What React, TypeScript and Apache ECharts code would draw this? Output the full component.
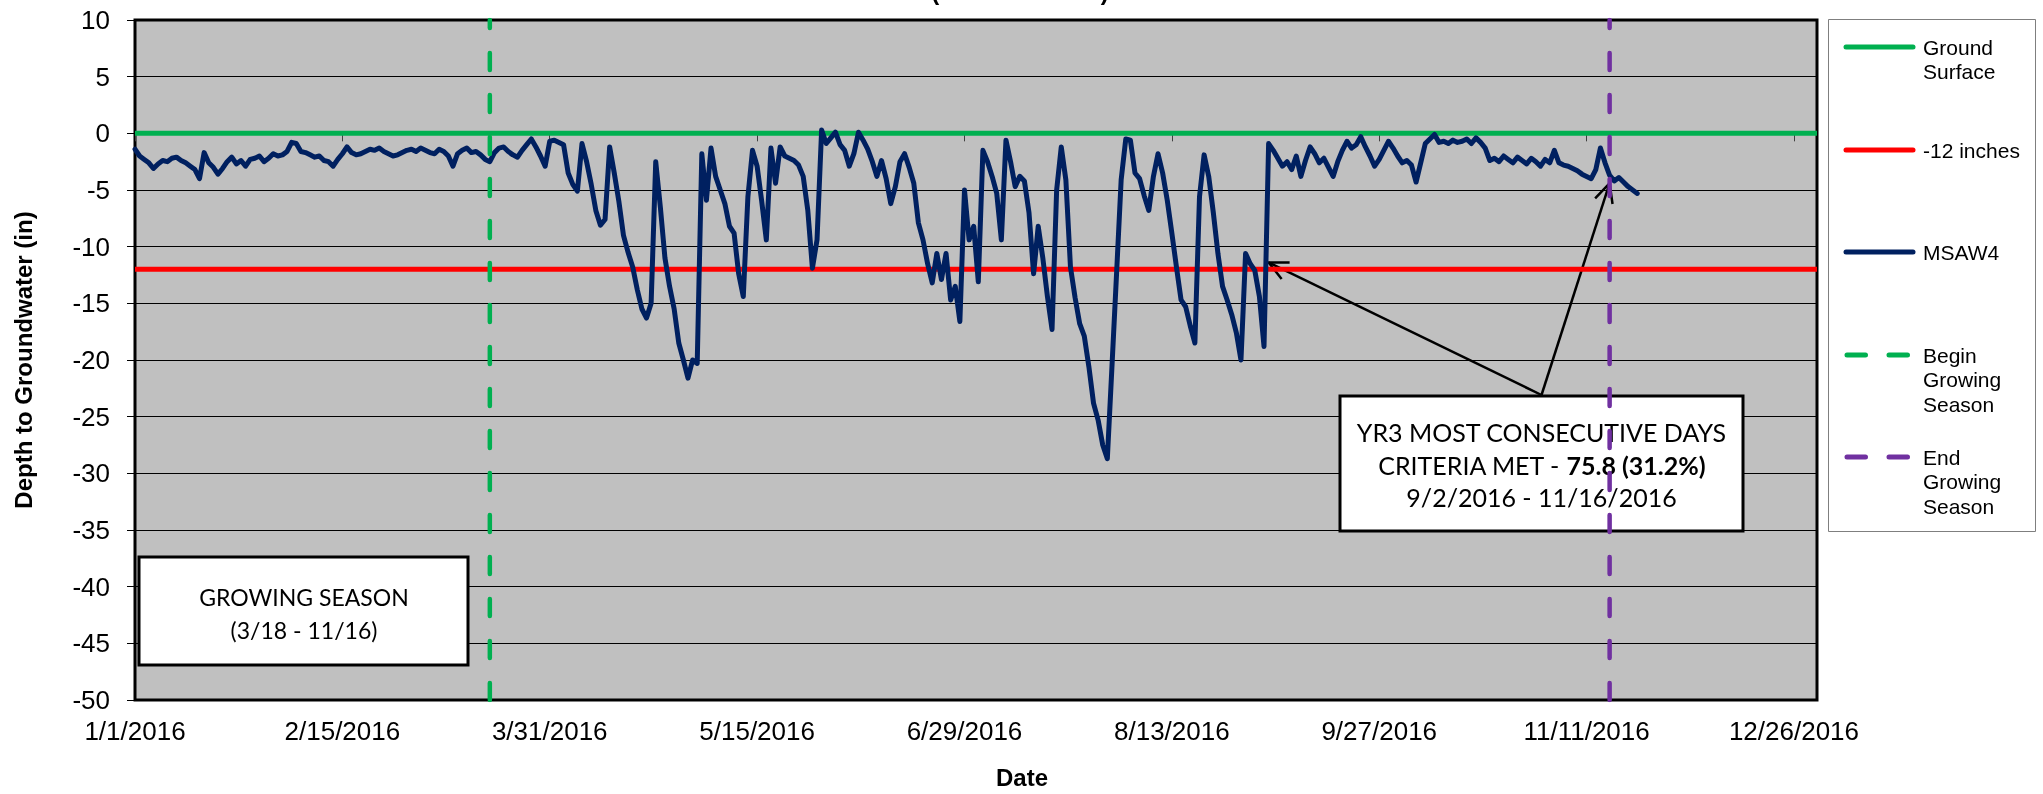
import React, { useEffect, useRef } from "react";
import * as echarts from "echarts";

// ---------- data ----------
const AXIS_START_DATE = "2016-01-01";
const AXIS_END_DATE = "2016-12-31";
const X_TICK_STEP_DAYS = 45;
const Y_MIN = -50;
const Y_MAX = 10;
const Y_STEP = 5;

const GROUND_SURFACE = 0;
const CRITERIA_DEPTH = -12;
const BEGIN_GROWING = "2016-03-18";
const END_GROWING = "2016-11-16";

const MSAW4_START = "2016-01-01";
// daily depth to groundwater (in)
const msaw4Depth = [
  -1.4, -2.0, -2.3, -2.6, -3.1, -2.7, -2.4, -2.5, -2.2, -2.1,
  -2.4, -2.6, -2.9, -3.2, -4.0, -1.7, -2.6, -3.0, -3.6, -3.1,
  -2.5, -2.1, -2.7, -2.4, -2.9, -2.3, -2.2, -2.0, -2.5, -2.2,
  -1.8, -2.0, -1.9, -1.6, -0.8, -0.9, -1.6, -1.7, -1.9, -2.1,
  -2.0, -2.4, -2.5, -2.9, -2.3, -1.8, -1.2, -1.7, -1.9, -1.8,
  -1.6, -1.4, -1.5, -1.3, -1.6, -1.8, -2.0, -1.9, -1.7, -1.5,
  -1.4, -1.6, -1.3, -1.5, -1.7, -1.8, -1.4, -1.6, -2.0, -2.9,
  -1.8, -1.5, -1.3, -1.7, -1.6, -1.9, -2.3, -2.5, -1.7, -1.3,
  -1.2, -1.6, -1.9, -2.1, -1.5, -1.0, -0.5, -1.2, -2.0, -2.9,
  -0.7, -0.6, -0.8, -1.0, -3.5, -4.5, -5.1, -0.9, -2.5, -4.5,
  -6.8, -8.1, -7.6, -1.2, -3.5, -6.0, -9.0, -10.5, -11.8, -13.8,
  -15.5, -16.3, -15.0, -2.5, -6.5, -11.0, -13.5, -15.5, -18.5, -20.0,
  -21.6, -20.0, -20.3, -1.8, -5.9, -1.3, -3.8, -5.0, -6.2, -8.2,
  -8.8, -12.4, -14.4, -5.6, -1.5, -2.9, -6.0, -9.4, -1.3, -4.4,
  -1.2, -2.0, -2.2, -2.4, -2.8, -3.8, -6.8, -11.9, -9.4, 0.3,
  -0.9, -0.4, 0.1, -1.0, -1.5, -2.9, -1.8, 0.1, -0.6, -1.4,
  -2.5, -3.8, -2.4, -4.0, -6.2, -4.7, -2.5, -1.8, -3.0, -4.4,
  -7.9, -9.4, -11.5, -13.2, -10.6, -12.9, -10.6, -14.7, -13.5, -16.6,
  -5.0, -9.4, -8.2, -13.1, -1.5, -2.5, -3.8, -5.3, -9.4, -0.6,
  -2.5, -4.7, -3.8, -4.2, -7.0, -12.4, -8.2, -11.0, -14.4, -17.3,
  -5.0, -1.2, -4.1, -11.8, -14.5, -16.8, -17.9, -20.6, -23.8, -25.3,
  -27.5, -28.7, -20.6, -12.4, -4.1, -0.5, -0.6, -3.5, -4.0, -5.5,
  -6.8, -3.8, -1.8, -3.5, -5.9, -8.8, -11.8, -14.7, -15.3, -17.0,
  -18.5, -5.6, -1.9, -3.8, -7.0, -10.6, -13.5, -14.7, -16.0, -17.6,
  -20.0, -10.6, -11.5, -12.1, -14.4, -18.8, -0.9, -1.5, -2.2, -2.9,
  -2.5, -3.2, -2.0, -3.8, -2.4, -1.2, -1.8, -2.6, -2.2, -3.0,
  -3.8, -2.5, -1.5, -0.7, -1.3, -1.0, -0.3, -1.2, -2.0, -2.9,
  -2.3, -1.5, -0.7, -1.3, -2.0, -2.6, -2.4, -2.8, -4.3, -2.6,
  -0.9, -0.5, -0.1, -0.8, -0.7, -0.9, -0.6, -0.8, -0.7, -0.5,
  -0.9, -0.4, -0.8, -1.3, -2.4, -2.2, -2.5, -2.0, -2.3, -2.6,
  -2.1, -2.4, -2.7, -2.2, -2.5, -2.9, -2.3, -2.6, -1.5, -2.6,
  -2.8, -2.9, -3.1, -3.3, -3.6, -3.8, -4.0, -3.2, -1.3, -2.6,
  -3.7, -4.2, -3.9, -4.3, -4.7, -5.0, -5.3,
];

const seriesNames = ["Ground Surface", "-12 inches", "MSAW4", "Begin Growing Season", "End Growing Season"];
const legendLabels = ["Ground\nSurface", "-12 inches", "MSAW4", "Begin\nGrowing\nSeason", "End\nGrowing\nSeason"];

const titleText = "(YEAR 3 - 2016)";
const xAxisTitle = "Date";
const yAxisTitle = "Depth to Groundwater (in)";
const seasonBoxLines = ["GROWING SEASON", "(3/18 - 11/16)"];
const criteriaLine1 = "YR3 MOST CONSECUTIVE DAYS";
const criteriaLine2a = "CRITERIA MET - ";
const criteriaLine2b = "75.8 (31.2%)";
const criteriaLine3 = "9/2/2016 - 11/16/2016";
const criteriaStart = "2016-09-03";
const criteriaStartDepth = -11.4;
const criteriaEnd = "2016-11-16";
const criteriaEndDepth = -4.4;

// ---------- helpers ----------
const DAY = 86400000;
const t0 = Date.parse(AXIS_START_DATE);
const dayOf = (s: string) => Math.round((Date.parse(s) - t0) / DAY);
const fmtDay = (v: number) => {
  const d = new Date(t0 + Math.round(v) * DAY);
  return `${d.getUTCMonth() + 1}/${d.getUTCDate()}/${d.getUTCFullYear()}`;
};

const GREEN = "#00B050";
const RED = "#FF0000";
const NAVY = "#002060";
const PURPLE = "#7030A0";
const SANS = "'Liberation Sans', Arial, sans-serif";
const BOXFONT = "Lato, 'Noto Sans', sans-serif";

export default function App() {
  const ref = useRef<HTMLDivElement>(null);

  useEffect(() => {
    if (!ref.current) return;
    const chart = echarts.init(ref.current, undefined, { renderer: "svg" });
    const xEnd = dayOf(AXIS_END_DATE);
    const xTicks: number[] = [];
    for (let v = 0; v <= xEnd; v += X_TICK_STEP_DAYS) xTicks.push(v);
    const msaw4Offset = dayOf(MSAW4_START);
    const bg = dayOf(BEGIN_GROWING);
    const eg = dayOf(END_GROWING);
    const dashStyle = (color: string) => ({ color, width: 4.5, type: [17, 25] as any, cap: "round" as any });

    chart.setOption({
      animation: false,
      grid: {
        left: 135, right: 226, top: 20, bottom: 94,
        show: true, backgroundColor: "#C0C0C0", borderColor: "#000", borderWidth: 3,
      },
      xAxis: {
        type: "value", min: 0, max: xEnd, interval: X_TICK_STEP_DAYS,
        axisLine: { show: false },
        axisTick: { show: true, customValues: xTicks, length: 8, lineStyle: { color: "#404040", width: 1 } },
        axisLabel: {
          customValues: xTicks, formatter: (v: number) => fmtDay(v), margin: 18,
          color: "#000", fontSize: 26, fontFamily: SANS,
        },
        splitLine: { show: false },
      },
      yAxis: {
        type: "value", min: Y_MIN, max: Y_MAX, interval: Y_STEP,
        name: yAxisTitle, nameLocation: "middle", nameGap: 100, nameRotate: 90,
        nameTextStyle: { color: "#000", fontSize: 24, fontWeight: "bold", fontFamily: SANS },
        axisLine: { show: false },
        axisTick: { show: true, length: 8, lineStyle: { color: "#000", width: 1 } },
        axisLabel: { margin: 25, color: "#000", fontSize: 26, fontFamily: SANS },
        splitLine: { show: true, lineStyle: { color: "#000", width: 1 } },
      },
      series: [
        {
          name: seriesNames[0], type: "line", symbol: "none", silent: true,
          data: [[0, GROUND_SURFACE], [xEnd, GROUND_SURFACE]],
          lineStyle: { color: GREEN, width: 5 },
        },
        {
          name: seriesNames[1], type: "line", symbol: "none", silent: true,
          data: [[0, CRITERIA_DEPTH], [xEnd, CRITERIA_DEPTH]],
          lineStyle: { color: RED, width: 5 },
        },
        {
          name: seriesNames[2], type: "line", symbol: "none", silent: true,
          data: msaw4Depth.map((v, i) => [msaw4Offset + i, v]),
          lineStyle: { color: NAVY, width: 5, join: "round", cap: "round" },
        },
        {
          name: seriesNames[3], type: "line", symbol: "none", silent: true,
          data: [[bg, Y_MIN], [bg, Y_MAX]],
          lineStyle: dashStyle(GREEN),
        },
        {
          name: seriesNames[4], type: "line", symbol: "none", silent: true,
          data: [[eg, Y_MIN], [eg, Y_MAX]],
          lineStyle: dashStyle(PURPLE),
        },
      ],
    });

    // ---- annotations / legend as graphic ----
    const px = (x: number, y: number) => chart.convertToPixel({ gridIndex: 0 }, [x, y]) as number[];
    const g: any[] = [];

    // clipped title (only parentheses' bottoms visible)
    g.push({
      type: "text", x: 1020, y: -9, silent: true,
      style: { text: titleText, fill: "#000", font: `bold 24px ${SANS}`, align: "center", verticalAlign: "middle" },
    });

    // x-axis title
    g.push({
      type: "text", x: 1022, y: 777, silent: true,
      style: { text: xAxisTitle, fill: "#000", font: `bold 24px ${SANS}`, align: "center", verticalAlign: "middle" },
    });

    // growing season box
    g.push({ type: "rect", shape: { x: 139, y: 557, width: 329, height: 108 }, style: { fill: "#fff", stroke: "#000", lineWidth: 3 }, silent: true });
    seasonBoxLines.forEach((t, i) => {
      g.push({
        type: "text", x: 304, y: 597 + i * 33, silent: true,
        style: { text: t, fill: "#000", font: `23px ${BOXFONT}`, align: "center", verticalAlign: "middle" },
      });
    });

    // criteria box
    const bx = 1340, by = 396, bw = 403, bh = 135;
    const bcx = bx + bw / 2;
    const cf = 25;
    g.push({ type: "rect", shape: { x: bx, y: by, width: bw, height: bh }, style: { fill: "#fff", stroke: "#000", lineWidth: 3 }, silent: true });
    g.push({
      type: "text", x: bcx, y: 432, silent: true,
      style: { text: criteriaLine1, fill: "#000", font: `${cf}px ${BOXFONT}`, align: "center", verticalAlign: "middle" },
    });
    g.push({
      type: "text", x: bcx, y: 465, silent: true,
      style: {
        text: `{n|${criteriaLine2a}}{b|${criteriaLine2b}}`, align: "center", verticalAlign: "middle",
        rich: {
          n: { fill: "#000", fontSize: cf, fontFamily: BOXFONT },
          b: { fill: "#000", fontSize: cf, fontFamily: BOXFONT, fontWeight: "bold" },
        },
      },
    });
    g.push({
      type: "text", x: bcx, y: 497, silent: true,
      style: { text: criteriaLine3, fill: "#000", font: `${cf}px ${BOXFONT}`, align: "center", verticalAlign: "middle" },
    });

    // arrows
    const arrow = (from: number[], to: number[]) => {
      const ang = Math.atan2(to[1] - from[1], to[0] - from[0]);
      const L = 21, a = 0.45;
      const p1 = [to[0] - L * Math.cos(ang - a), to[1] - L * Math.sin(ang - a)];
      const p2 = [to[0] - L * Math.cos(ang + a), to[1] - L * Math.sin(ang + a)];
      g.push({ type: "line", silent: true, shape: { x1: from[0], y1: from[1], x2: to[0], y2: to[1] }, style: { stroke: "#000", lineWidth: 2.5 } });
      g.push({ type: "polyline", silent: true, shape: { points: [p1, to, p2] }, style: { stroke: "#000", lineWidth: 2.5, fill: null, lineJoin: "miter" } });
    };
    const origin = [bcx, by - 1];
    arrow(origin, px(dayOf(criteriaStart), criteriaStartDepth));
    arrow(origin, px(dayOf(criteriaEnd), criteriaEndDepth));

    // legend
    g.push({ type: "rect", silent: true, shape: { x: 1828.5, y: 19.5, width: 207, height: 512 }, style: { fill: "#fff", stroke: "#7f7f7f", lineWidth: 1 } });
    const legendColors = [GREEN, RED, NAVY, GREEN, PURPLE];
    const legendDashed = [false, false, false, true, true];
    const legendY = [47, 150, 252, 355, 457];
    legendLabels.forEach((label, i) => {
      const y = legendY[i];
      if (legendDashed[i]) {
        g.push({ type: "line", silent: true, shape: { x1: 1847, y1: y, x2: 1909, y2: y }, style: { stroke: legendColors[i], lineWidth: 5, lineCap: "round", lineDash: [18.5, 23.5] } });
      } else {
        g.push({ type: "line", silent: true, shape: { x1: 1846, y1: y, x2: 1913, y2: y }, style: { stroke: legendColors[i], lineWidth: 5, lineCap: "round" } });
      }
      g.push({
        type: "text", x: 1923, y: y - 12.25, silent: true,
        style: { text: label, fill: "#000", font: `21px ${SANS}`, lineHeight: 24.5, align: "left", verticalAlign: "top" },
      });
    });

    chart.setOption({ graphic: g });

    return () => chart.dispose();
  }, []);

  return <div ref={ref} style={{ position: "fixed", left: 0, top: 0, width: 2043, height: 794 }} />;
}
